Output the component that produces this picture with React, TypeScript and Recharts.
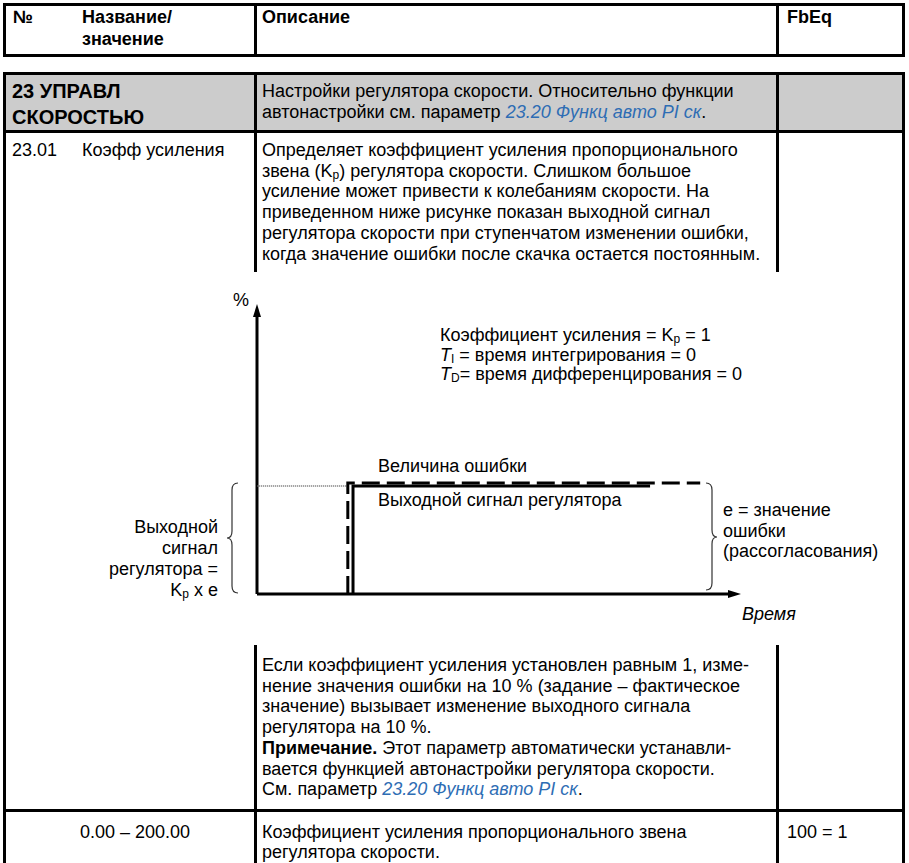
import React from "react"
import { Line, LineChart, ReferenceDot, ReferenceLine, XAxis, YAxis } from "recharts"

// step response (time %, signal %)
const errorTime = [19.2, 19.2, 93.7]
const errorLevel = [0, 39.8, 39.8]
const outputTime = [20.3, 20.3, 83.1]
const outputLevel = [0, 38.7, 38.7]
const guideTime = [-0.8, 19.2]
const guideLevel = [38.7, 38.7]

const errorData = errorTime.map((t, i) => ({ t, v: errorLevel[i] }))
const outputData = outputTime.map((t, i) => ({ t, v: outputLevel[i] }))
const guideData = guideTime.map((t, i) => ({ t, v: guideLevel[i] }))

const FONT = "'Liberation Sans', Arial, sans-serif"
const LINK = "#2e6db4"
const LH = 20.7

function T({ x, y, children, style }: { x: number; y: number; children: React.ReactNode; style?: React.CSSProperties }) {
  return (
    <div style={{ position: "absolute", left: x, top: y, whiteSpace: "nowrap", lineHeight: `${LH}px`, ...style }}>
      {children}
    </div>
  )
}

function Rule({ x, y, w, h }: { x: number; y: number; w: number; h: number }) {
  return <div style={{ position: "absolute", left: x, top: y, width: w, height: h, background: "#000" }} />
}

const Sub = ({ children }: { children: React.ReactNode }) => (
  <span style={{ fontSize: 12, position: "relative", top: 2, lineHeight: 0 }}>{children}</span>
)

const Link = ({ children }: { children: React.ReactNode }) => (
  <span style={{ color: LINK, fontStyle: "italic" }}>{children}</span>
)

const arrowRight = (p: any) => (
  <polygon points={`${p.cx - 2},${p.cy - 4} ${p.cx + 11},${p.cy} ${p.cx - 2},${p.cy + 4}`} fill="#000" />
)
const arrowUp = (p: any) => (
  <polygon points={`${p.cx - 4},${p.cy + 2} ${p.cx},${p.cy - 11} ${p.cx + 4},${p.cy + 2}`} fill="#000" />
)

function StepChart() {
  return (
    <div style={{ position: "absolute", left: 200, top: 280 }}>
      <LineChart width={600} height={340} margin={{ top: 35, right: 70, bottom: 26, left: 57 }}>
        <XAxis type="number" dataKey="t" domain={[0, 100]} allowDataOverflow hide />
        <YAxis type="number" dataKey="v" domain={[0, 100]} hide />
        <ReferenceLine x={0} stroke="#000" strokeWidth={3} ifOverflow="visible" />
        <ReferenceLine y={0} stroke="#000" strokeWidth={3} ifOverflow="visible" />
        <Line
          data={guideData}
          dataKey="v"
          stroke="#666"
          strokeWidth={1.5}
          strokeDasharray="1 1"
          dot={false}
          isAnimationActive={false}
        />
        <Line
          data={outputData}
          dataKey="v"
          stroke="#000"
          strokeWidth={3}
          dot={false}
          isAnimationActive={false}
        />
        <Line
          data={errorData}
          dataKey="v"
          stroke="#000"
          strokeWidth={3}
          strokeDasharray="18 7"
          dot={false}
          isAnimationActive={false}
        />
        <ReferenceDot x={100} y={0} ifOverflow="visible" shape={arrowRight} />
        <ReferenceDot x={0} y={100} ifOverflow="visible" shape={arrowUp} />
      </LineChart>
    </div>
  )
}

function Braces() {
  return (
    <svg width={909} height={863} style={{ position: "absolute", left: 0, top: 0, pointerEvents: "none" }}>
      <path
        d="M238,483 Q232,483 232,490 L232,531 Q232,538 227,538 Q232,538 232,545 L232,586 Q232,593 238,593"
        fill="none"
        stroke="#333"
        strokeWidth={1.2}
      />
      <path
        d="M706,483 Q712,483 712,490 L712,530 Q712,537 717,537 Q712,537 712,544 L712,583 Q712,590 706,590"
        fill="none"
        stroke="#333"
        strokeWidth={1.2}
      />
    </svg>
  )
}

export default function App() {
  return (
    <div
      style={{
        position: "absolute",
        left: 0,
        top: 0,
        width: 909,
        height: 863,
        overflow: "hidden",
        background: "#fff",
        fontFamily: FONT,
        fontSize: 18,
        color: "#000",
      }}
    >
      {/* header table */}
      <div style={{ position: "absolute", left: 3, top: 3, width: 902, height: 54, border: "3px solid #000", boxSizing: "border-box" }} />
      <Rule x={254} y={3} w={3} h={54} />
      <Rule x={776} y={3} w={3} h={54} />
      <T x={13} y={6} style={{ fontWeight: "bold", lineHeight: "22px" }}>№</T>
      <T x={82} y={6} style={{ fontWeight: "bold", lineHeight: "22px" }}>
        Название/
        <br />
        значение
      </T>
      <T x={262} y={6} style={{ fontWeight: "bold", lineHeight: "22px" }}>Описание</T>
      <T x={787} y={6} style={{ fontWeight: "bold", lineHeight: "22px" }}>FbEq</T>

      {/* parameter table */}
      <div style={{ position: "absolute", left: 3, top: 72, width: 902, height: 60, background: "#cccccc" }} />
      <Rule x={3} y={72} w={902} h={3} />
      <Rule x={3} y={130} w={902} h={3} />
      <Rule x={3} y={809} w={902} h={3} />
      <Rule x={3} y={72} w={3} h={791} />
      <Rule x={902} y={72} w={3} h={791} />
      <Rule x={254} y={72} w={3} h={200} />
      <Rule x={776} y={72} w={3} h={200} />
      <Rule x={254} y={645} w={3} h={218} />
      <Rule x={776} y={645} w={3} h={218} />

      <T x={12} y={78} style={{ fontWeight: "bold", fontSize: 20, lineHeight: "26px" }}>
        23 УПРАВЛ
        <br />
        СКОРОСТЬЮ
      </T>
      <T x={262} y={81}>
        Настройки регулятора скорости. Относительно функции
        <br />
        автонастройки см. параметр <Link>23.20 Функц авто PI ск</Link>.
      </T>

      <T x={12} y={140}>23.01</T>
      <T x={82} y={140}>Коэфф усиления</T>
      <T x={262} y={140}>
        Определяет коэффициент усиления пропорционального
        <br />
        звена (K<Sub>p</Sub>) регулятора скорости. Слишком большое
        <br />
        усиление может привести к колебаниям скорости. На
        <br />
        приведенном ниже рисунке показан выходной сигнал
        <br />
        регулятора скорости при ступенчатом изменении ошибки,
        <br />
        когда значение ошибки после скачка остается постоянным.
      </T>

      {/* chart */}
      <StepChart />
      <Braces />
      <T x={233} y={290}>%</T>
      <T x={440} y={326} style={{ lineHeight: "19.5px" }}>
        Коэффициент усиления = K<Sub>p</Sub> = 1
        <br />
        <i>T</i>
        <Sub>I</Sub> = время интегрирования = 0
        <br />
        <i>T</i>
        <Sub>D</Sub>= время дифференцирования = 0
      </T>
      <T x={378} y={456}>Величина ошибки</T>
      <T x={378} y={490}>Выходной сигнал регулятора</T>
      <T x={723} y={500}>
        e = значение
        <br />
        ошибки
        <br />
        (рассогласования)
      </T>
      <T x={742} y={604} style={{ fontStyle: "italic" }}>Время</T>
      <div
        style={{
          position: "absolute",
          right: 909 - 218,
          top: 517,
          textAlign: "right",
          whiteSpace: "nowrap",
          lineHeight: "21px",
        }}
      >
        Выходной
        <br />
        сигнал
        <br />
        регулятора =
        <br />
        K<Sub>p</Sub> x e
      </div>

      <T x={262} y={655}>
        Если коэффициент усиления установлен равным 1, изме-
        <br />
        нение значения ошибки на 10 % (задание – фактическое
        <br />
        значение) вызывает изменение выходного сигнала
        <br />
        регулятора на 10 %.
        <br />
        <b>Примечание.</b> Этот параметр автоматически устанавли-
        <br />
        вается функцией автонастройки регулятора скорости.
        <br />
        См. параметр <Link>23.20 Функц авто PI ск</Link>.
      </T>

      <T x={80} y={822}>0.00 – 200.00</T>
      <T x={262} y={822} style={{ lineHeight: "20px" }}>
        Коэффициент усиления пропорционального звена
        <br />
        регулятора скорости.
      </T>
      <T x={787} y={822}>100 = 1</T>
    </div>
  )
}
